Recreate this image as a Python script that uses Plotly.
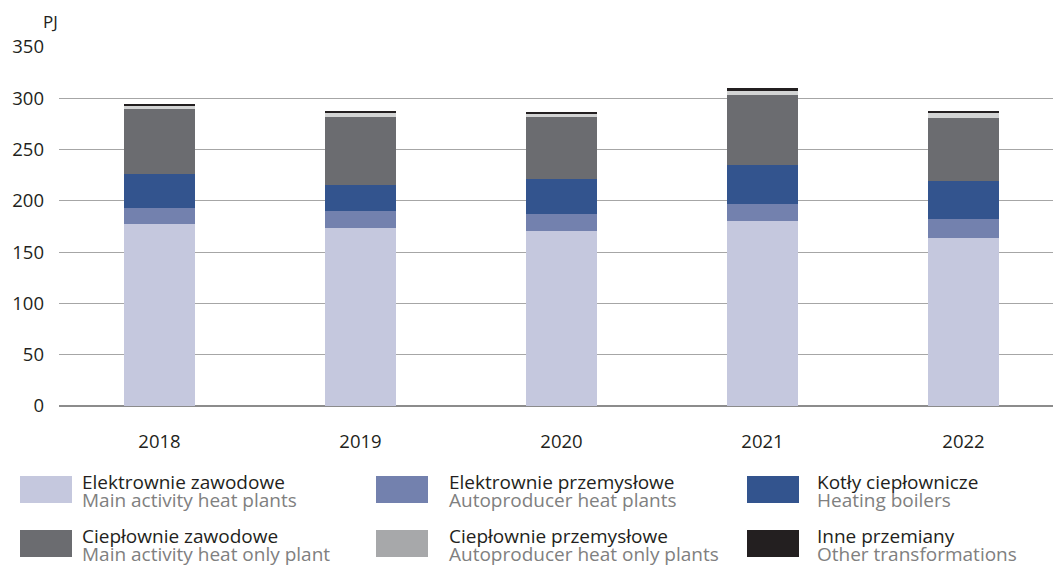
import plotly.graph_objects as go

years = ["2018", "2019", "2020", "2021", "2022"]

series_pl = ["Elektrownie zawodowe", "Elektrownie przemysłowe", "Kotły ciepłownicze",
             "Ciepłownie zawodowe", "Ciepłownie przemysłowe", "Inne przemiany"]
series_en = ["Main activity heat plants", "Autoproducer heat plants", "Heating boilers",
             "Main activity heat only plant", "Autoproducer heat only plants", "Other transformations"]

elektrownie_zawodowe = [177.2, 173.3, 170.4, 180.2, 163.6]
elektrownie_przemyslowe = [15.7, 16.6, 16.6, 16.6, 18.5]
kotly_cieplownicze = [33.2, 25.4, 34.2, 38.1, 37.2]
cieplownie_zawodowe = [63.5, 66.4, 60.5, 68.3, 61.5]
cieplownie_przemyslowe = [3.2, 3.9, 3.0, 3.9, 4.8]
inne_przemiany = [1.6, 2.0, 1.9, 3.0, 2.0]

values = [elektrownie_zawodowe, elektrownie_przemyslowe, kotly_cieplownicze,
          cieplownie_zawodowe, cieplownie_przemyslowe, inne_przemiany]

bar_colors = ["#c5c8de", "#7381ae", "#33548e", "#6b6c70", "#d3d4d4", "#231f20"]
swatch_colors = ["#c5c8de", "#7381ae", "#33548e", "#6b6c70", "#a7a8aa", "#231f20"]

y_ticks = [0, 50, 100, 150, 200, 250, 300, 350]

FONT = "Open Sans"
W, H = 1053, 566
ML, MR, MT, MB = 59, 0, 47, 160

fig = go.Figure()
for name, vals, col in zip(series_pl, values, bar_colors):
    fig.add_trace(go.Bar(x=years, y=vals, name=name, marker=dict(color=col, line=dict(width=0)),
                         showlegend=False))

plot_w = W - ML - MR
plot_h = H - MT - MB
cat_px = 201.0

def px_x(px):
    return (px - ML) / plot_w

def px_y(py):
    return (H - MB - py) / plot_h

shapes = []
annotations = []
col_x = [20, 376, 747]
text_x = [80, 447, 815]
row_y = [476, 530]
for i, (pl, en, col) in enumerate(zip(series_pl, series_en, swatch_colors)):
    r, c = divmod(i, 3)
    x0 = col_x[c]
    y0 = row_y[r]
    shapes.append(dict(type="rect", xref="paper", yref="paper",
                       x0=px_x(x0), x1=px_x(x0 + 52), y0=px_y(y0 + 27), y1=px_y(y0),
                       fillcolor=col, line=dict(width=0)))
    annotations.append(dict(text=pl, xref="paper", yref="paper", x=px_x(text_x[c]), y=px_y(y0 + 6),
                            xanchor="left", yanchor="middle", showarrow=False,
                            font=dict(family=FONT, size=19, color="#231f20")))
    annotations.append(dict(text=en, xref="paper", yref="paper", x=px_x(text_x[c]), y=px_y(y0 + 24),
                            xanchor="left", yanchor="middle", showarrow=False,
                            font=dict(family=FONT, size=19, color="#808080")))

annotations.append(dict(text="PJ", xref="paper", yref="paper", x=px_x(50), y=px_y(22),
                        xanchor="center", yanchor="middle", showarrow=False,
                        font=dict(family=FONT, size=17, color="#231f20")))

fig.update_layout(
    barmode="stack",
    bargap=1 - 71 / cat_px,
    width=W, height=H,
    margin=dict(l=ML, r=MR, t=MT, b=MB),
    plot_bgcolor="white", paper_bgcolor="white",
    font=dict(family=FONT, size=18, color="#231f20"),
    shapes=shapes,
    annotations=annotations,
    xaxis=dict(type="category", range=[-0.5, -0.5 + plot_w / cat_px], showgrid=False,
               showline=False, ticks="", ticklabelstandoff=22,
               tickfont=dict(family=FONT, size=18.5, color="#231f20")),
    yaxis=dict(range=[0, 350], tickvals=y_ticks, showgrid=True, gridcolor="#a6a6a6", gridwidth=1.3,
               zeroline=True, zerolinecolor="#8c8c8c", zerolinewidth=1.5, showline=False,
               ticks="", ticklabelstandoff=14,
               tickfont=dict(family=FONT, size=18.5, color="#231f20")),
)

fig.write_html("out.html")
